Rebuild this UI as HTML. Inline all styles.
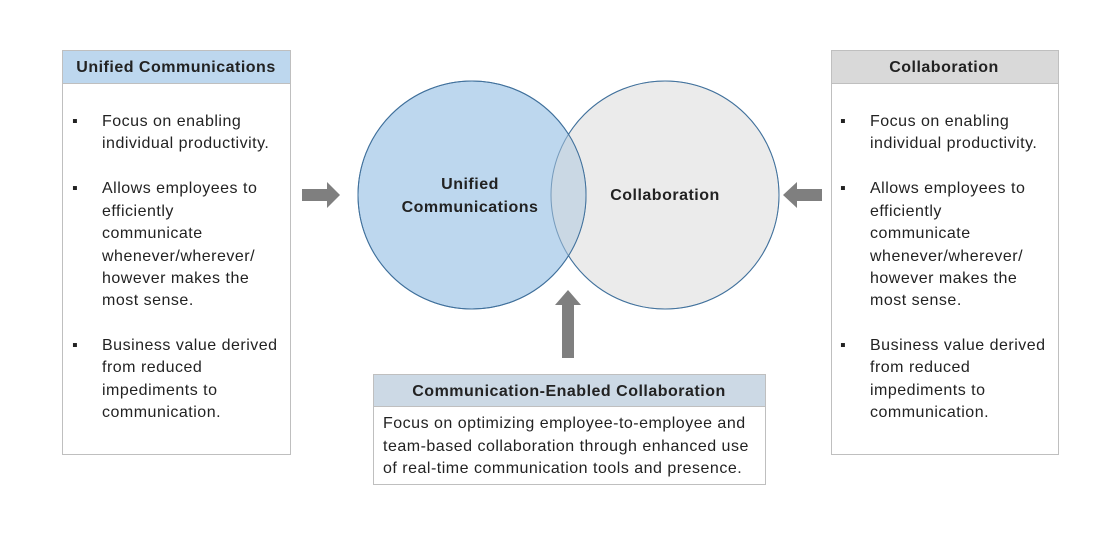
<!DOCTYPE html>
<html><head><style>body{margin:0;background:#fff}svg{display:block}text{font-family:"Liberation Sans",sans-serif;fill:#222;letter-spacing:0.5px}</style></head><body>
<svg width="1116" height="538" viewBox="0 0 1116 538">
<defs><clipPath id="cl"><circle cx="472" cy="195" r="114"/></clipPath></defs>
<!-- left box -->
<rect x="62.5" y="50.5" width="228" height="404" fill="#fff" stroke="#bfbfbf"/>
<rect x="62.5" y="50.5" width="228" height="33" fill="#bdd7ee" stroke="#bfbfbf"/>
<text x="176" y="72" font-size="16" font-weight="bold" text-anchor="middle">Unified Communications</text>
<g font-size="16">
<text x="72" y="126">▪</text><text x="102" y="126">Focus on enabling</text><text x="102" y="148">individual productivity.</text>
<text x="72" y="193">▪</text><text x="102" y="193">Allows employees to</text><text x="102" y="216">efficiently</text><text x="102" y="238">communicate</text><text x="102" y="261">whenever/wherever/</text><text x="102" y="283">however makes the</text><text x="102" y="305">most sense.</text>
<text x="72" y="350">▪</text><text x="102" y="350">Business value derived</text><text x="102" y="372">from reduced</text><text x="102" y="395">impediments to</text><text x="102" y="417">communication.</text>
</g>
<!-- right box -->
<rect x="831.5" y="50.5" width="227" height="404" fill="#fff" stroke="#bfbfbf"/>
<rect x="831.5" y="50.5" width="227" height="33" fill="#d9d9d9" stroke="#bfbfbf"/>
<text x="944" y="72" font-size="16" font-weight="bold" text-anchor="middle">Collaboration</text>
<g font-size="16">
<text x="840" y="126">▪</text><text x="870" y="126">Focus on enabling</text><text x="870" y="148">individual productivity.</text>
<text x="840" y="193">▪</text><text x="870" y="193">Allows employees to</text><text x="870" y="216">efficiently</text><text x="870" y="238">communicate</text><text x="870" y="261">whenever/wherever/</text><text x="870" y="283">however makes the</text><text x="870" y="305">most sense.</text>
<text x="840" y="350">▪</text><text x="870" y="350">Business value derived</text><text x="870" y="372">from reduced</text><text x="870" y="395">impediments to</text><text x="870" y="417">communication.</text>
</g>
<!-- circles -->
<circle cx="665" cy="195" r="114" fill="#ebebeb" stroke="#41719c" stroke-width="1"/>
<circle cx="472" cy="195" r="114" fill="#bdd7ee" stroke="#41719c" stroke-width="1"/>
<circle cx="665" cy="195" r="114" fill="#cad8e4" clip-path="url(#cl)"/>
<circle cx="665" cy="195" r="114" fill="none" stroke="#41719c" stroke-width="1" opacity="0.6"/>
<circle cx="472" cy="195" r="114" fill="none" stroke="#41719c" stroke-width="1"/>
<text x="470" y="189" font-size="16" font-weight="bold" text-anchor="middle">Unified</text>
<text x="470" y="212" font-size="16" font-weight="bold" text-anchor="middle">Communications</text>
<text x="665" y="200" font-size="16" font-weight="bold" text-anchor="middle">Collaboration</text>
<!-- arrows -->
<polygon points="302,189 327,189 327,182 340,195 327,208 327,201 302,201" fill="#7f7f7f"/>
<polygon points="822,189 797,189 797,182 783,195 797,208 797,201 822,201" fill="#7f7f7f"/>
<polygon points="562,358 562,305 555,305 568,290 581,305 574,305 574,358" fill="#7f7f7f"/>
<!-- bottom box -->
<rect x="373.5" y="374.5" width="392" height="110" fill="#fff" stroke="#bfbfbf"/>
<rect x="373.5" y="374.5" width="392" height="32" fill="#ccd9e5" stroke="#bfbfbf"/>
<text x="569" y="396" font-size="16" font-weight="bold" text-anchor="middle">Communication-Enabled Collaboration</text>
<g font-size="16">
<text x="383" y="428">Focus on optimizing employee-to-employee and</text>
<text x="383" y="451">team-based collaboration through enhanced use</text>
<text x="383" y="473">of real-time communication tools and presence.</text>
</g>
</svg>
</body></html>
